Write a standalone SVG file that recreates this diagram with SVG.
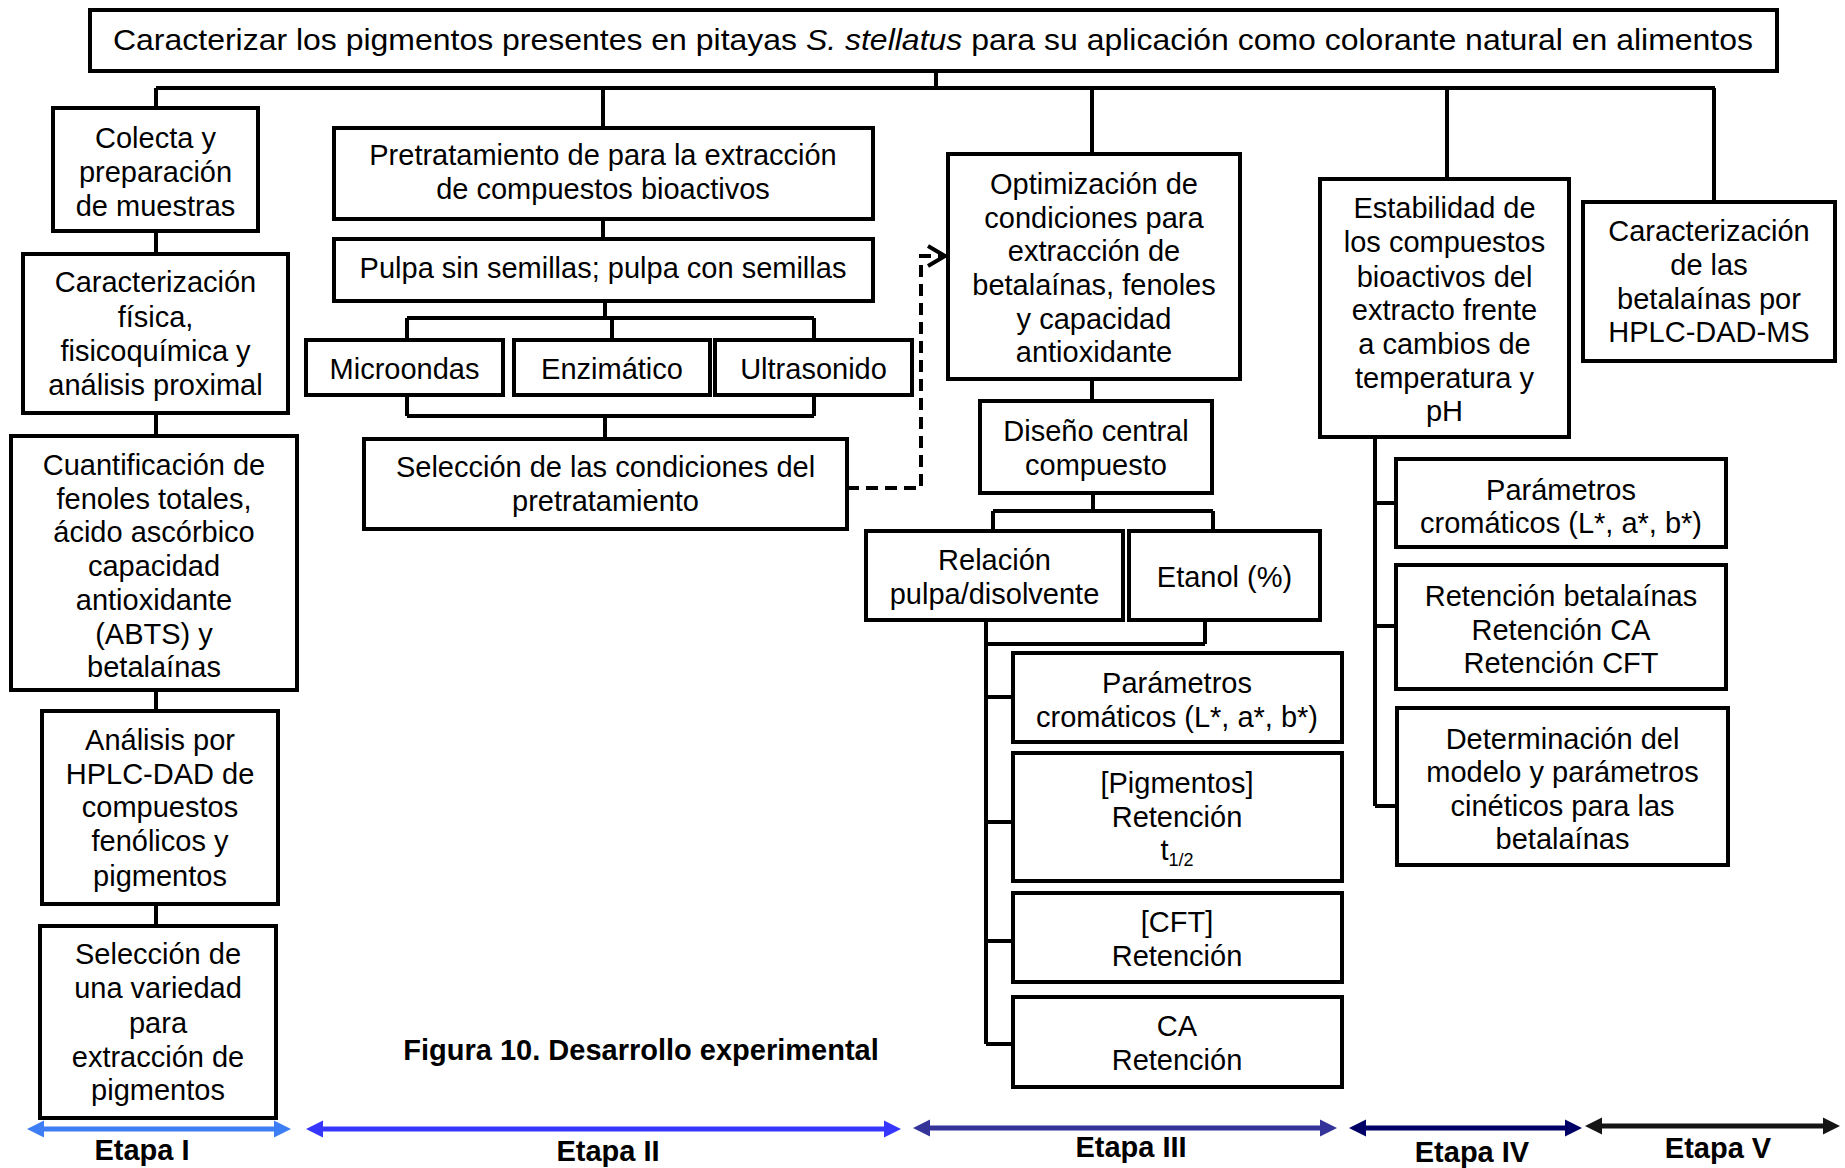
<svg xmlns="http://www.w3.org/2000/svg" width="1845" height="1168" viewBox="0 0 1845 1168">
<style>
.box{fill:#fff;stroke:#000;stroke-width:4}
.t{font-family:"Liberation Sans",Arial,sans-serif;font-size:29px;text-anchor:middle;fill:#000}
.b{font-family:"Liberation Sans",Arial,sans-serif;font-size:29px;font-weight:bold;text-anchor:middle;fill:#000}
.c{fill:none;stroke:#000;stroke-width:4}
.d{fill:none;stroke:#000;stroke-width:4;stroke-dasharray:12 7}
</style>
<defs>
<marker id="chev" markerUnits="userSpaceOnUse" markerWidth="24" markerHeight="26" refX="19" refY="12" orient="auto">
<path d="M2,2 L19,12 L2,22" fill="none" stroke="#000" stroke-width="4" stroke-dasharray="none"/>
</marker>
</defs>
<rect width="1845" height="1168" fill="#fff"/>

<g id="connectors">
<path class="c" d="M936,71 V88 M156,88 H1715 M156,88 V108 M603,88 V128 M1092,88 V154 M1447,88 V179 M1714,88 V202"/>
<path class="c" d="M156,231 V254 M156,413 V436 M156,690 V711 M156,904 V926"/>
<path class="c" d="M603,219 V239 M605,301 V318 M407,318 H814 M407,318 V340 M612,318 V340 M814,318 V340"/>
<path class="c" d="M407,395 V416 M814,395 V416 M407,416 H814 M605,416 V439"/>
<path class="d" d="M847,488 H921 V256 H945" marker-end="url(#chev)"/>
<path class="c" d="M1092,379 V401 M1093,493 V511 M993,511 H1213 M993,511 V531 M1213,511 V531"/>
<path class="c" d="M986,620 V1044 M1205,620 V644 M986,644 H1205 M986,697 H1013 M986,822 H1013 M986,941 H1013 M986,1044 H1013"/>
<path class="c" d="M1375,437 V806 M1375,503 H1396 M1375,626 H1396 M1375,806 H1397"/>
</g>

<g id="title">
<rect class="box" x="90" y="10" width="1687" height="61"/>
<text class="t" x="933" y="50" textLength="1640" lengthAdjust="spacingAndGlyphs">Caracterizar los pigmentos presentes en pitayas <tspan font-style="italic">S. stellatus</tspan> para su aplicación como colorante natural en alimentos</text>
</g>

<g id="colecta">
<rect class="box" x="53" y="108" width="205" height="123"/>
<text class="t"><tspan x="155.5" y="148">Colecta y</tspan><tspan x="155.5" y="182">preparación</tspan><tspan x="155.5" y="216">de muestras</tspan></text>
</g>
<g id="caract-fisica">
<rect class="box" x="23" y="254" width="265" height="159"/>
<text class="t"><tspan x="155.5" y="292">Caracterización</tspan><tspan x="155.5" y="327">física,</tspan><tspan x="155.5" y="361">fisicoquímica y</tspan><tspan x="155.5" y="395">análisis proximal</tspan></text>
</g>
<g id="cuantificacion">
<rect class="box" x="11" y="436" width="286" height="254"/>
<text class="t"><tspan x="154" y="475">Cuantificación de</tspan><tspan x="154" y="509">fenoles totales,</tspan><tspan x="154" y="542">ácido ascórbico</tspan><tspan x="154" y="576">capacidad</tspan><tspan x="154" y="610">antioxidante</tspan><tspan x="154" y="644">(ABTS) y</tspan><tspan x="154" y="677">betalaínas</tspan></text>
</g>
<g id="analisis">
<rect class="box" x="42" y="711" width="236" height="193"/>
<text class="t"><tspan x="160" y="750">Análisis por</tspan><tspan x="160" y="784">HPLC-DAD de</tspan><tspan x="160" y="817">compuestos</tspan><tspan x="160" y="851">fenólicos y</tspan><tspan x="160" y="886">pigmentos</tspan></text>
</g>
<g id="seleccion-variedad">
<rect class="box" x="40" y="926" width="236" height="192"/>
<text class="t"><tspan x="158" y="964">Selección de</tspan><tspan x="158" y="998">una variedad</tspan><tspan x="158" y="1033">para</tspan><tspan x="158" y="1067">extracción de</tspan><tspan x="158" y="1100">pigmentos</tspan></text>
</g>

<g id="pretratamiento">
<rect class="box" x="334" y="128" width="539" height="91"/>
<text class="t"><tspan x="603" y="165">Pretratamiento de para la extracción</tspan><tspan x="603" y="199">de compuestos bioactivos</tspan></text>
</g>
<g id="pulpa">
<rect class="box" x="334" y="239" width="539" height="62"/>
<text class="t" x="603" y="278">Pulpa sin semillas; pulpa con semillas</text>
</g>
<g id="microondas">
<rect class="box" x="306" y="340" width="197" height="55"/>
<text class="t" x="404.5" y="379">Microondas</text>
</g>
<g id="enzimatico">
<rect class="box" x="514" y="340" width="196" height="55"/>
<text class="t" x="612" y="379">Enzimático</text>
</g>
<g id="ultrasonido">
<rect class="box" x="715" y="340" width="197" height="55"/>
<text class="t" x="813.5" y="379">Ultrasonido</text>
</g>
<g id="seleccion-condiciones">
<rect class="box" x="364" y="439" width="483" height="90"/>
<text class="t"><tspan x="605.5" y="477">Selección de las condiciones del</tspan><tspan x="605.5" y="511">pretratamiento</tspan></text>
</g>

<g id="optimizacion">
<rect class="box" x="948" y="154" width="292" height="225"/>
<text class="t"><tspan x="1094" y="194">Optimización de</tspan><tspan x="1094" y="228">condiciones para</tspan><tspan x="1094" y="261">extracción de</tspan><tspan x="1094" y="295">betalaínas, fenoles</tspan><tspan x="1094" y="329">y capacidad</tspan><tspan x="1094" y="362">antioxidante</tspan></text>
</g>
<g id="diseno">
<rect class="box" x="980" y="401" width="232" height="92"/>
<text class="t"><tspan x="1096" y="441">Diseño central</tspan><tspan x="1096" y="475">compuesto</tspan></text>
</g>
<g id="relacion">
<rect class="box" x="866" y="531" width="257" height="89"/>
<text class="t"><tspan x="994.5" y="570">Relación</tspan><tspan x="994.5" y="604">pulpa/disolvente</tspan></text>
</g>
<g id="etanol">
<rect class="box" x="1129" y="531" width="191" height="89"/>
<text class="t" x="1224.5" y="587">Etanol (%)</text>
</g>
<g id="parametros-iii">
<rect class="box" x="1013" y="653" width="329" height="89"/>
<text class="t"><tspan x="1177" y="693">Parámetros</tspan><tspan x="1177" y="727">cromáticos (L*, a*, b*)</tspan></text>
</g>
<g id="pigmentos">
<rect class="box" x="1013" y="753" width="329" height="128"/>
<text class="t"><tspan x="1177" y="793">[Pigmentos]</tspan><tspan x="1177" y="827">Retención</tspan><tspan x="1177" y="860">t</tspan><tspan font-size="18" dy="6">1/2</tspan></text>
</g>
<g id="cft">
<rect class="box" x="1013" y="893" width="329" height="89"/>
<text class="t"><tspan x="1177" y="932">[CFT]</tspan><tspan x="1177" y="966">Retención</tspan></text>
</g>
<g id="ca">
<rect class="box" x="1013" y="997" width="329" height="90"/>
<text class="t"><tspan x="1177" y="1036">CA</tspan><tspan x="1177" y="1070">Retención</tspan></text>
</g>

<g id="estabilidad">
<rect class="box" x="1320" y="179" width="249" height="258"/>
<text class="t"><tspan x="1444.5" y="218">Estabilidad de</tspan><tspan x="1444.5" y="252">los compuestos</tspan><tspan x="1444.5" y="287">bioactivos del</tspan><tspan x="1444.5" y="320">extracto frente</tspan><tspan x="1444.5" y="354">a cambios de</tspan><tspan x="1444.5" y="388">temperatura y</tspan><tspan x="1444.5" y="421">pH</tspan></text>
</g>
<g id="parametros-iv">
<rect class="box" x="1396" y="459" width="330" height="88"/>
<text class="t"><tspan x="1561" y="500">Parámetros</tspan><tspan x="1561" y="533">cromáticos (L*, a*, b*)</tspan></text>
</g>
<g id="retencion">
<rect class="box" x="1396" y="565" width="330" height="124"/>
<text class="t"><tspan x="1561" y="606">Retención betalaínas</tspan><tspan x="1561" y="640">Retención CA</tspan><tspan x="1561" y="673">Retención CFT</tspan></text>
</g>
<g id="determinacion">
<rect class="box" x="1397" y="708" width="331" height="157"/>
<text class="t"><tspan x="1562.5" y="749">Determinación del</tspan><tspan x="1562.5" y="782">modelo y parámetros</tspan><tspan x="1562.5" y="816">cinéticos para las</tspan><tspan x="1562.5" y="849">betalaínas</tspan></text>
</g>

<g id="caract-hplc">
<rect class="box" x="1583" y="202" width="252" height="159"/>
<text class="t"><tspan x="1709" y="241">Caracterización</tspan><tspan x="1709" y="275">de las</tspan><tspan x="1709" y="309">betalaínas por</tspan><tspan x="1709" y="342">HPLC-DAD-MS</tspan></text>
</g>

<g id="caption">
<text class="b" x="641" y="1060" font-size="30">Figura 10. Desarrollo experimental</text>
</g>

<g id="etapas">
<path fill="#3D7EF5" d="M27,1129 L44,1120.5 L44,1126.5 L274,1126.5 L274,1120.5 L291,1129 L274,1137.5 L274,1131.5 L44,1131.5 L44,1137.5 Z"/>
<path fill="#3636FF" d="M306,1129 L323,1120.5 L323,1126.5 L884,1126.5 L884,1120.5 L901,1129 L884,1137.5 L884,1131.5 L323,1131.5 L323,1137.5 Z"/>
<path fill="#33339A" d="M913,1128 L930,1119.5 L930,1125.5 L1320,1125.5 L1320,1119.5 L1337,1128 L1320,1136.5 L1320,1130.5 L930,1130.5 L930,1136.5 Z"/>
<path fill="#000066" d="M1349,1128 L1366,1119.5 L1366,1125.5 L1565,1125.5 L1565,1119.5 L1582,1128 L1565,1136.5 L1565,1130.5 L1366,1130.5 L1366,1136.5 Z"/>
<path fill="#141414" d="M1585,1126 L1602,1117.5 L1602,1123.5 L1823,1123.5 L1823,1117.5 L1840,1126 L1823,1134.5 L1823,1128.5 L1602,1128.5 L1602,1134.5 Z"/>
<text class="b" x="142" y="1160">Etapa I</text>
<text class="b" x="608" y="1161">Etapa II</text>
<text class="b" x="1131" y="1157">Etapa III</text>
<text class="b" x="1472" y="1162">Etapa IV</text>
<text class="b" x="1718" y="1158">Etapa V</text>
</g>
</svg>
